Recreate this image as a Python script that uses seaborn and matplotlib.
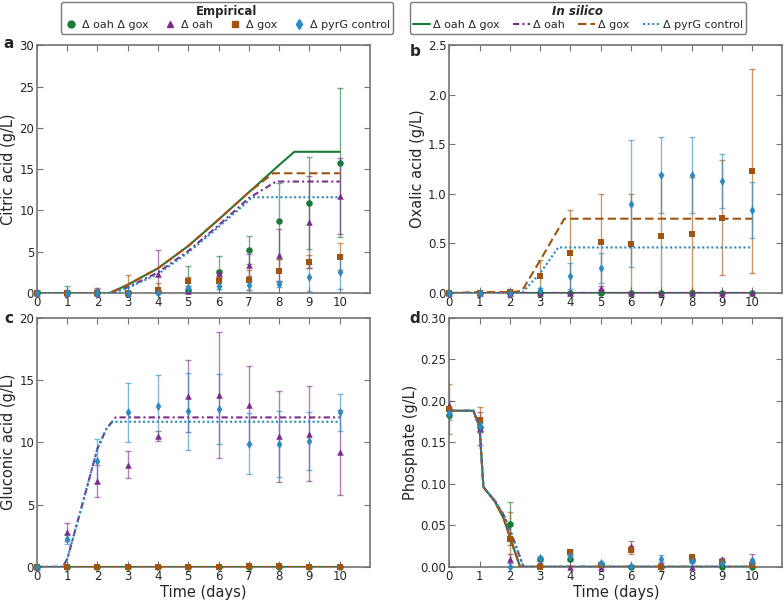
import numpy as np
import pandas as pd
import matplotlib
matplotlib.use('Agg')
import matplotlib.pyplot as plt
from matplotlib.lines import Line2D
import seaborn as sns

# strains, order: green, purple, brown, blue
strains = ['Δ oah Δ gox', 'Δ oah', 'Δ gox', 'Δ pyrG control']
colors = ['#1a7a3a', '#7b2d8b', '#a0540f', '#2b8ac4']
markers = ['o', '^', 's', 'd']
styles = ['-', (0, (3, 1.5, 1, 1.5)), (0, (4, 2)), (0, (1, 1.2))]
days = list(range(11))

# ---- citric acid (empirical mean / sd) ----
citric_mean = [[0, 0, 0, 0, 0.1, 0.4, 2.5, 5.2, 8.7, 10.9, 15.8],
               [0, 0, 0, 0, 2.3, 0.2, 2.4, 3.4, 4.6, 8.6, 11.7],
               [0, 0, 0, 0, 0.4, 1.4, 1.4, 1.6, 2.7, 3.8, 4.4],
               [0, 0, 0, 0, 0, 0.6, 0.8, 1.0, 1.1, 1.9, 2.6]]
citric_sd = [[0.4, 0.8, 0.5, 0.3, 0.3, 2.9, 2.0, 1.7, 4.6, 5.6, 9.0],
             [0.2, 0.3, 0.6, 0.3, 2.9, 0.3, 0.4, 1.3, 3.1, 5.6, 4.6],
             [0.2, 0.2, 0.3, 2.2, 0.8, 0.5, 0.6, 1.2, 1.4, 0.8, 1.6],
             [0.3, 0.4, 0.2, 0.2, 0.2, 0.3, 0.9, 0.6, 0.4, 1.6, 2.1]]
citric_sim_t = [[0, 2.4, 3, 4, 5, 6, 7, 8, 8.5, 10],
                [0, 2.5, 3, 4, 5, 6, 7, 7.9, 10],
                [0, 2.4, 3, 4, 5, 6, 7, 7.8, 10],
                [0, 2.5, 3, 4, 5, 6, 7, 7.1, 10]]
citric_sim_v = [[0, 0, 1.0, 3.0, 5.7, 8.9, 12.2, 15.5, 17.1, 17.1],
                [0, 0, 0.7, 2.5, 5.1, 8.2, 11.5, 13.5, 13.5],
                [0, 0, 1.0, 3.0, 5.7, 8.9, 12.2, 14.5, 14.5],
                [0, 0, 0.6, 2.3, 4.9, 8.0, 11.2, 11.6, 11.6]]

# ---- oxalic acid ----
oxalic_mean = [[0] * 11,
               [0, 0, 0, 0, 0, 0.05, 0, 0, 0, 0, 0],
               [0, 0, 0.01, 0.17, 0.40, 0.52, 0.49, 0.58, 0.60, 0.76, 1.23],
               [0, 0, 0, 0.03, 0.17, 0.25, 0.90, 1.19, 1.19, 1.13, 0.84]]
oxalic_sd = [[0.005] * 11,
             [0.005, 0.005, 0.005, 0.01, 0.01, 0.02, 0.01, 0.01, 0.005, 0.005, 0.005],
             [0.005, 0.005, 0.01, 0.16, 0.44, 0.48, 0.51, 0.62, 0.57, 0.58, 1.03],
             [0.005, 0.01, 0.01, 0.02, 0.13, 0.15, 0.64, 0.38, 0.38, 0.27, 0.28]]
oxalic_sim_t = [[0, 10], [0, 10],
                [0, 1, 2, 2.4, 3, 3.8, 10],
                [0, 2.4, 3, 3.6, 10]]
oxalic_sim_v = [[0, 0], [0, 0],
                [0, 0.01, 0.01, 0.02, 0.33, 0.75, 0.75],
                [0, 0, 0.2, 0.46, 0.46]]

# ---- gluconic acid ----
gluconic_mean = [[0] * 11,
                 [0, 2.8, 6.9, 8.2, 10.5, 13.7, 13.8, 13.0, 10.5, 10.7, 9.2],
                 [0, 0, 0, 0, 0, 0, 0, 0.05, 0.05, 0, 0],
                 [0, 2.2, 8.5, 12.4, 12.9, 12.5, 12.7, 9.9, 9.85, 10.1, 12.4]]
gluconic_sd = [[0.1] * 11,
               [0.1, 0.75, 1.3, 1.1, 0.4, 2.9, 5.05, 3.1, 3.65, 3.8, 3.4],
               [0.1] * 11,
               [0.1, 0.4, 1.8, 2.4, 2.5, 3.1, 2.8, 2.45, 2.65, 2.3, 1.5]]
gluconic_sim_t = [[0, 10],
                  [0, 0.85, 1.0, 1.5, 2.0, 2.3, 2.6, 10],
                  [0, 10],
                  [0, 0.85, 1.0, 1.5, 2.0, 2.3, 2.5, 10]]
gluconic_sim_v = [[0, 0],
                  [0, 0, 0.6, 5.0, 9.5, 11.1, 12.0, 12.0],
                  [0, 0],
                  [0, 0, 0.6, 5.0, 9.5, 11.1, 11.65, 11.65]]

# ---- phosphate ----
phosphate_mean = [[0.183, 0.168, 0.052, 0.009, 0.010, 0.003, 0, 0, 0.008, 0, 0],
                  [0.195, 0.167, 0.010, 0.003, 0, 0, 0.025, 0.003, 0, 0.009, 0.010],
                  [0.190, 0.177, 0.033, 0, 0.018, 0.002, 0.020, 0, 0.012, 0.006, 0.002],
                  [0.185, 0.170, 0, 0.011, 0.013, 0.004, 0.001, 0.010, 0.007, 0.004, 0.007]]
phosphate_sd = [[0.004, 0.005, 0.026, 0.002, 0.003, 0.001, 0.001, 0.001, 0.002, 0.001, 0.001],
                [0.005, 0.020, 0.005, 0.001, 0.001, 0.001, 0.006, 0.002, 0.001, 0.002, 0.006],
                [0.030, 0.015, 0.033, 0.001, 0.002, 0.002, 0.005, 0.001, 0.001, 0.002, 0.001],
                [0.008, 0.006, 0.001, 0.002, 0.003, 0.002, 0.001, 0.004, 0.002, 0.002, 0.003]]
phosphate_sim_t = [[0, 0.8, 1.0, 1.13, 1.5, 1.8, 2.0, 2.34, 10],
                   [0, 0.8, 1.0, 1.13, 1.5, 1.8, 2.0, 2.45, 10],
                   [0, 0.8, 1.0, 1.13, 1.5, 1.8, 2.0, 2.34, 10],
                   [0, 0.8, 1.0, 1.13, 1.5, 1.8, 2.0, 2.45, 10]]
phosphate_sim_v = [[0.188, 0.188, 0.168, 0.096, 0.079, 0.058, 0.036, 0, 0],
                   [0.188, 0.188, 0.168, 0.096, 0.080, 0.062, 0.045, 0, 0],
                   [0.188, 0.188, 0.168, 0.096, 0.079, 0.058, 0.036, 0, 0],
                   [0.188, 0.188, 0.168, 0.096, 0.080, 0.063, 0.046, 0, 0]]

panels = [
    ('a', 'Citric acid (g/L)', citric_mean, citric_sd, citric_sim_t, citric_sim_v, (0, 30), np.arange(0, 31, 5), '%d'),
    ('b', 'Oxalic acid (g/L)', oxalic_mean, oxalic_sd, oxalic_sim_t, oxalic_sim_v, (0, 2.5), np.arange(0, 2.51, 0.5), '%.1f'),
    ('c', 'Gluconic acid (g/L)', gluconic_mean, gluconic_sd, gluconic_sim_t, gluconic_sim_v, (0, 20), np.arange(0, 21, 5), '%d'),
    ('d', 'Phosphate (g/L)', phosphate_mean, phosphate_sd, phosphate_sim_t, phosphate_sim_v, (0, 0.3), np.arange(0, 0.301, 0.05), '%.2f'),
]

sns.set_style('ticks')
plt.rcParams['font.family'] = ['DejaVu Sans']

fig = plt.figure(figsize=(7.84, 6.03), dpi=100)
boxes = [(0.047, 0.514, 0.425, 0.411), (0.573, 0.514, 0.425, 0.411),
         (0.047, 0.060, 0.425, 0.413), (0.573, 0.060, 0.425, 0.413)]
# panel letter positions (figure fraction, baseline)
label_pos = {'a': (0.011, 0.920), 'b': (0.529, 0.907), 'c': (0.011, 0.464), 'd': (0.529, 0.464)}

for (lab, ylab, mean, sd, sim_t, sim_v, ylim, yticks, fmt), box in zip(panels, boxes):
    ax = fig.add_axes(box)
    for i in range(4):
        ax.errorbar(days, mean[i], yerr=sd[i], fmt='none', ecolor=colors[i], alpha=0.6,
                    elinewidth=1, capsize=2.5, capthick=1, zorder=2)
    for i in range(4):
        sns.lineplot(x=sim_t[i], y=sim_v[i], color=colors[i], linestyle=styles[i],
                     linewidth=1.5, sort=False, ax=ax, zorder=3)
    for i in range(4):
        sns.scatterplot(x=days, y=mean[i], color=colors[i], marker=markers[i],
                        s=22, linewidth=0, ax=ax, zorder=4, clip_on=False)
    ax.set_xlim(0, 11)
    ax.set_ylim(*ylim)
    ax.set_xticks(range(11))
    ax.set_yticks(yticks)
    ax.set_yticklabels([fmt % v for v in yticks])
    ax.tick_params(direction='in', top=True, right=True, labelsize=8.5, length=4,
                   color='0.45', pad=2)
    for sp in ax.spines.values():
        sp.set_color('0.45')
        sp.set_linewidth(1.2)
    ax.set_ylabel(ylab, fontsize=10.5, labelpad=2)
    if lab in ('c', 'd'):
        ax.set_xlabel('Time (days)', fontsize=10.5, labelpad=2)
    fig.text(*label_pos[lab], lab, fontsize=11, fontweight='bold', ha='center', va='baseline')

emp_handles = [Line2D([], [], linestyle='none', marker=markers[i], color=colors[i], markersize=5)
               for i in range(4)]
sim_handles = [Line2D([], [], linestyle=styles[i], color=colors[i], linewidth=1.5) for i in range(4)]

leg1 = fig.legend(emp_handles, strains, ncol=4, title='Empirical', loc='upper left',
                  bbox_to_anchor=(0.076, 0.999), fontsize=8, handletextpad=0.4,
                  columnspacing=1.35, borderpad=0.3, borderaxespad=0.1, labelspacing=0.2,
                  handlelength=1.2, title_fontproperties={'weight': 'bold', 'size': 8.5},
                  frameon=True, fancybox=True)
leg1.get_frame().set_edgecolor('0.35')
leg2 = fig.legend(sim_handles, strains, ncol=4, title='In silico', loc='upper left',
                  bbox_to_anchor=(0.521, 0.999), fontsize=8, handletextpad=0.3,
                  columnspacing=1.2, borderpad=0.3, borderaxespad=0.1, labelspacing=0.2,
                  handlelength=1.5,
                  title_fontproperties={'weight': 'bold', 'style': 'italic', 'size': 8.5},
                  frameon=True, fancybox=True)
leg2.get_frame().set_edgecolor('0.35')

fig.savefig('out.png', dpi=100)
